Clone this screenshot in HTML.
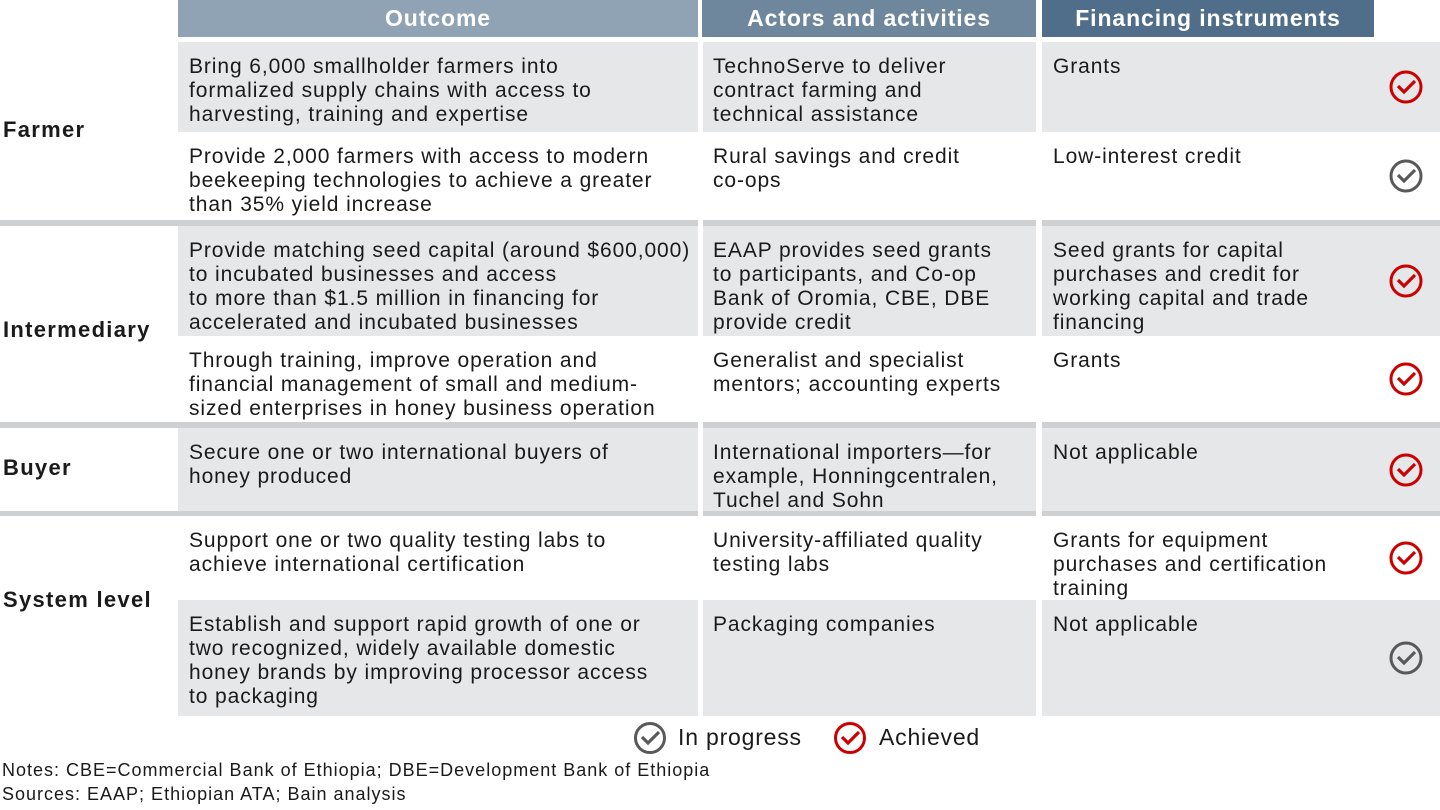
<!DOCTYPE html>
<html><head><meta charset="utf-8"><style>
body{margin:0;width:1440px;height:810px;background:#fff;font-family:"Liberation Sans",Arial,sans-serif;position:relative;overflow:hidden;color:#1a1a1a}
.a{position:absolute}
.h{top:0;height:37px;color:#fff;font-weight:bold;font-size:23px;text-align:center;line-height:36px;letter-spacing:0.9px}
.c{font-size:21px;line-height:24px;padding:13px 0 0 11px;box-sizing:border-box;letter-spacing:0.9px;white-space:nowrap}
.g{background:#e6e7e8}
.sep{left:0;width:1440px;background:#cfd0d2}
.lab{left:3px;font-weight:bold;font-size:22px;letter-spacing:1.3px}
.gap{top:37px;height:680px;width:5px;background:#fff}
</style></head><body>
<div class="a h" style="left:178px;width:520px;background:#8fa3b5">Outcome</div>
<div class="a h" style="left:702px;width:334px;background:#6e879c">Actors and activities</div>
<div class="a h" style="left:1042px;width:332px;background:#506e8a">Financing instruments</div>
<div id="rows"></div>
<div class="a sep" style="top:220px;height:6px"></div>
<div class="a sep" style="top:422px;height:6px"></div>
<div class="a sep" style="top:511px;height:5px"></div>
<div class="a gap" style="left:698px"></div>
<div class="a gap" style="left:1036px;width:6px"></div>
<div class="a lab" style="top:117px">Farmer</div>
<div class="a lab" style="top:317px">Intermediary</div>
<div class="a lab" style="top:455px">Buyer</div>
<div class="a lab" style="top:587px">System level</div>
<svg class="a" style="left:632px;top:720px" width="36" height="36"><circle cx="18" cy="18" r="14.5" fill="none" stroke="#595959" stroke-width="3"/><path d="M10 17 L16 23 L27 12" fill="none" stroke="#595959" stroke-width="3.2"/></svg>
<div class="a" style="left:678px;top:724px;font-size:23px;letter-spacing:0.8px">In progress</div>
<svg class="a" style="left:832px;top:720px" width="36" height="36"><circle cx="18" cy="18" r="14.5" fill="none" stroke="#cc0000" stroke-width="3"/><path d="M10 17 L16 23 L27 12" fill="none" stroke="#cc0000" stroke-width="3.2"/></svg>
<div class="a" style="left:879px;top:724px;font-size:23px;letter-spacing:0.8px">Achieved</div>
<div class="a" style="left:2px;top:760px;font-size:18px;letter-spacing:1px">Notes: CBE=Commercial Bank of Ethiopia; DBE=Development Bank of Ethiopia</div>
<div class="a" style="left:2px;top:784px;font-size:18px;letter-spacing:1px">Sources: EAAP; Ethiopian ATA; Bain analysis</div>
<script>
const rowTops=[42,132,226,336,428,516,600];
const rowBottoms=[132,220,336,422,511,600,716];
const shaded=[1,0,1,0,1,0,1];
const outcomes=["Bring 6,000 smallholder farmers into<br>formalized supply chains with access to<br>harvesting, training and expertise","Provide 2,000 farmers with access to modern<br>beekeeping technologies to achieve a greater<br>than 35% yield increase","Provide matching seed capital (around $600,000)<br>to incubated businesses and access<br>to more than $1.5 million in financing for<br>accelerated and incubated businesses","Through training, improve operation and<br>financial management of small and medium-<br>sized enterprises in honey business operation","Secure one or two international buyers of<br>honey produced","Support one or two quality testing labs to<br>achieve international certification","Establish and support rapid growth of one or<br>two recognized, widely available domestic<br>honey brands by improving processor access<br>to packaging"];
const actors=["TechnoServe to deliver<br>contract farming and<br>technical assistance","Rural savings and credit<br>co-ops","EAAP provides seed grants<br>to participants, and Co-op<br>Bank of Oromia, CBE, DBE<br>provide credit","Generalist and specialist<br>mentors; accounting experts","International importers—for<br>example, Honningcentralen,<br>Tuchel and Sohn","University-affiliated quality<br>testing labs","Packaging companies"];
const financing=["Grants","Low-interest credit","Seed grants for capital<br>purchases and credit for<br>working capital and trade<br>financing","Grants","Not applicable","Grants for equipment<br>purchases and certification<br>training","Not applicable"];
const achieved=[1,0,1,1,1,1,0];
const root=document.getElementById('rows');
const cols=[[178,520],[702,334],[1042,398]];
for(let i=0;i<outcomes.length;i++){
  const texts=[outcomes[i],actors[i],financing[i]];
  for(let j=0;j<3;j++){
    const d=document.createElement('div');
    
    
    d.className='a c'+(shaded[i]?' g':'');
    d.style.left=cols[j][0]+'px';d.style.width=cols[j][1]+'px';
    d.style.top=rowTops[i]+'px';d.style.height=(rowBottoms[i]-rowTops[i])+'px';
    d.innerHTML=texts[j];
    root.appendChild(d);
  }
  const col=achieved[i]?'#cc0000':'#595959';
  const cy=(rowTops[i]+rowBottoms[i])/2;
  const s=document.createElementNS('http://www.w3.org/2000/svg','svg');
  
  
  s.setAttribute('class','a');s.setAttribute('width','36');s.setAttribute('height','36');
  s.style.left='1388px';s.style.top=(cy-18)+'px';
  s.innerHTML='<circle cx="18" cy="18" r="15" fill="none" stroke="'+col+'" stroke-width="3"/><path d="M10 17 L16 23 L27 12" fill="none" stroke="'+col+'" stroke-width="3.2"/>';
  root.appendChild(s);
}
</script>
</body></html>
